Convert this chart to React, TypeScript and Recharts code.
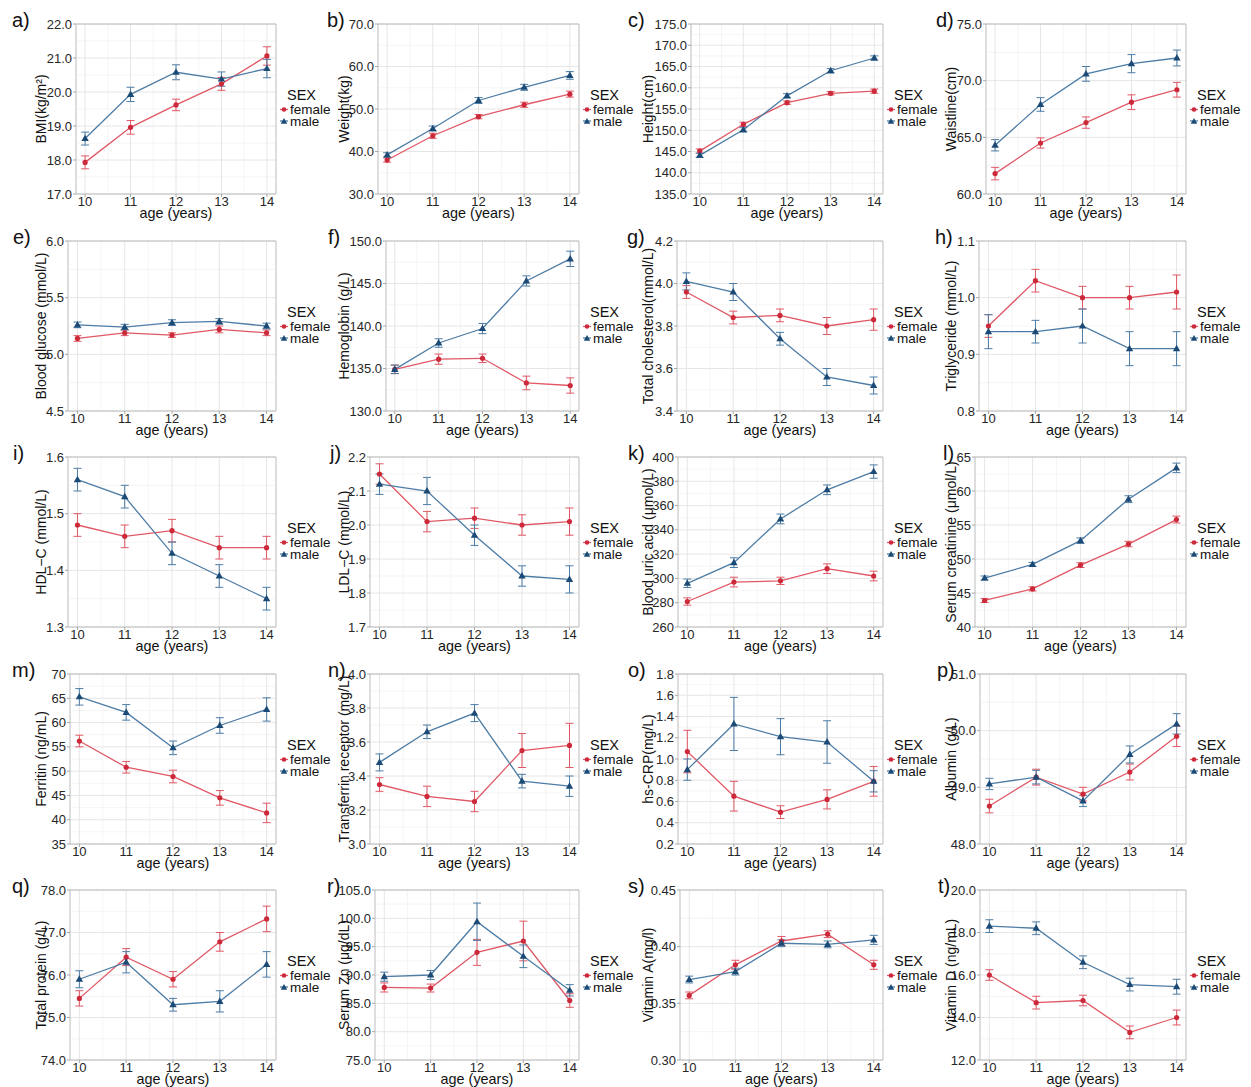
import React from 'react';
import { LineChart, Line, XAxis, YAxis, CartesianGrid, ErrorBar, ReferenceArea } from 'recharts';

// ---------- shared ----------
const ages = [10, 11, 12, 13, 14];
const xTicks = [10, 11, 12, 13, 14];
const xMinor = [10.5, 11.5, 12.5, 13.5];

// a) BMI
const bmiF = [17.93, 18.96, 19.62, 20.24, 21.06];
const bmiFe = [0.19, 0.2, 0.17, 0.19, 0.27];
const bmiM = [18.63, 19.93, 20.58, 20.38, 20.69];
const bmiMe = [0.19, 0.21, 0.22, 0.21, 0.27];
const bmiTicks = [17, 18, 19, 20, 21, 22];

// b) Weight
const wtF = [38.0, 43.7, 48.2, 51.0, 53.5];
const wtFe = [0.5, 0.6, 0.5, 0.6, 0.7];
const wtM = [39.2, 45.4, 52.0, 55.1, 57.9];
const wtMe = [0.5, 0.6, 0.7, 0.7, 0.9];
const wtTicks = [30, 40, 50, 60, 70];

// c) Height
const htF = [145.1, 151.4, 156.5, 158.7, 159.2];
const htFe = [0.5, 0.5, 0.4, 0.4, 0.5];
const htM = [144.1, 150.1, 158.1, 164.0, 167.0];
const htMe = [0.5, 0.5, 0.5, 0.5, 0.5];
const htTicks = [135, 140, 145, 150, 155, 160, 165, 170, 175];

// d) Waistline
const wsF = [61.8, 64.5, 66.3, 68.1, 69.2];
const wsFe = [0.55, 0.45, 0.5, 0.65, 0.65];
const wsM = [64.3, 67.9, 70.6, 71.5, 72.0];
const wsMe = [0.5, 0.6, 0.65, 0.8, 0.7];
const wsTicks = [60, 65, 70, 75];

// e) Blood glucose
const gluF = [5.14, 5.19, 5.17, 5.22, 5.19];
const gluFe = [0.025, 0.025, 0.02, 0.03, 0.025];
const gluM = [5.26, 5.24, 5.28, 5.29, 5.25];
const gluMe = [0.025, 0.025, 0.025, 0.025, 0.025];
const gluTicks = [4.5, 5.0, 5.5, 6.0];

// f) Hemoglobin
const hbF = [134.9, 136.1, 136.2, 133.3, 133.0];
const hbFe = [0.5, 0.6, 0.5, 0.8, 0.9];
const hbM = [134.9, 138.0, 139.7, 145.3, 147.9];
const hbMe = [0.5, 0.5, 0.6, 0.6, 0.9];
const hbTicks = [130, 135, 140, 145, 150];

// g) Total cholesterol
const tcF = [3.96, 3.84, 3.85, 3.8, 3.83];
const tcFe = [0.03, 0.03, 0.03, 0.04, 0.05];
const tcM = [4.01, 3.96, 3.74, 3.56, 3.52];
const tcMe = [0.04, 0.04, 0.03, 0.04, 0.04];
const tcTicks = [3.4, 3.6, 3.8, 4.0, 4.2];

// h) Triglyceride
const tgF = [0.95, 1.03, 1.0, 1.0, 1.01];
const tgFe = [0.02, 0.02, 0.02, 0.02, 0.03];
const tgM = [0.94, 0.94, 0.95, 0.91, 0.91];
const tgMe = [0.03, 0.02, 0.03, 0.03, 0.03];
const tgTicks = [0.8, 0.9, 1.0, 1.1];

// i) HDL-C
const hdlF = [1.48, 1.46, 1.47, 1.44, 1.44];
const hdlFe = [0.02, 0.02, 0.02, 0.02, 0.02];
const hdlM = [1.56, 1.53, 1.43, 1.39, 1.35];
const hdlMe = [0.02, 0.02, 0.02, 0.02, 0.02];
const hdlTicks = [1.3, 1.4, 1.5, 1.6];

// j) LDL-C
const ldlF = [2.15, 2.01, 2.02, 2.0, 2.01];
const ldlFe = [0.03, 0.03, 0.03, 0.03, 0.04];
const ldlM = [2.12, 2.1, 1.97, 1.85, 1.84];
const ldlMe = [0.03, 0.04, 0.03, 0.03, 0.04];
const ldlTicks = [1.7, 1.8, 1.9, 2.0, 2.1, 2.2];

// k) Blood uric acid
const uaF = [281, 297, 298, 308, 302];
const uaFe = [3, 4, 3, 4, 4];
const uaM = [296, 313, 349, 373, 388];
const uaMe = [3.5, 4, 4, 4, 5.5];
const uaTicks = [260, 280, 300, 320, 340, 360, 380, 400];

// l) Serum creatinine
const crF = [43.9, 45.6, 49.1, 52.2, 55.8];
const crFe = [0.3, 0.3, 0.35, 0.4, 0.5];
const crM = [47.2, 49.2, 52.7, 58.8, 63.4];
const crMe = [0.3, 0.3, 0.4, 0.5, 0.7];
const crTicks = [40, 45, 50, 55, 60, 65];

// m) Ferritin
const feF = [56.2, 50.8, 48.9, 44.5, 41.4];
const feFe = [1.2, 1.2, 1.3, 1.5, 2.0];
const feM = [65.3, 62.1, 54.8, 59.4, 62.7];
const feMe = [1.7, 1.6, 1.4, 1.6, 2.4];
const feTicks = [35, 40, 45, 50, 55, 60, 65, 70];

// n) Transferrin receptor
const tfrF = [3.35, 3.28, 3.25, 3.55, 3.58];
const tfrFe = [0.04, 0.06, 0.06, 0.1, 0.13];
const tfrM = [3.48, 3.66, 3.77, 3.37, 3.34];
const tfrMe = [0.05, 0.04, 0.05, 0.04, 0.06];
const tfrTicks = [3.0, 3.2, 3.4, 3.6, 3.8, 4.0];

// o) hs-CRP
const crpF = [1.07, 0.65, 0.5, 0.62, 0.79];
const crpFe = [0.2, 0.14, 0.06, 0.09, 0.14];
const crpM = [0.9, 1.33, 1.21, 1.16, 0.79];
const crpMe = [0.1, 0.25, 0.17, 0.2, 0.1];
const crpTicks = [0.2, 0.4, 0.6, 0.8, 1.0, 1.2, 1.4, 1.6, 1.8];

// p) Albumin
const albF = [48.67, 49.18, 48.88, 49.27, 49.9];
const albFe = [0.12, 0.14, 0.12, 0.14, 0.18];
const albM = [49.06, 49.18, 48.76, 49.58, 50.12];
const albMe = [0.1, 0.12, 0.1, 0.15, 0.18];
const albTicks = [48, 49, 50, 51];

// q) Total protein
const tpF = [75.45, 76.42, 75.9, 76.78, 77.32];
const tpFe = [0.18, 0.2, 0.18, 0.22, 0.3];
const tpM = [75.9, 76.3, 75.3, 75.38, 76.25];
const tpMe = [0.2, 0.25, 0.15, 0.25, 0.3];
const tpTicks = [74, 75, 76, 77, 78];

// r) Serum Zn
const znF = [87.8, 87.7, 94.0, 96.0, 85.5];
const znFe = [0.8, 0.7, 2.3, 3.5, 1.2];
const znM = [89.7, 90.0, 99.4, 93.3, 87.3];
const znMe = [0.8, 0.8, 3.3, 2.0, 1.0];
const znTicks = [75, 80, 85, 90, 95, 100, 105];

// s) Vitamin A
const vaF = [0.357, 0.384, 0.405, 0.411, 0.384];
const vaFe = [0.003, 0.004, 0.004, 0.003, 0.004];
const vaM = [0.371, 0.378, 0.403, 0.402, 0.406];
const vaMe = [0.003, 0.003, 0.003, 0.003, 0.004];
const vaTicks = [0.3, 0.35, 0.4, 0.45];

// t) Vitamin D
const vdF = [16.0, 14.7, 14.8, 13.3, 14.0];
const vdFe = [0.25, 0.3, 0.25, 0.3, 0.35];
const vdM = [18.3, 18.2, 16.6, 15.55, 15.45];
const vdMe = [0.3, 0.3, 0.3, 0.3, 0.35];
const vdTicks = [12, 14, 16, 18, 20];

const seriesNames = ['female', 'male'];
const legendTitle = 'SEX';
const xTitle = 'age (years)';

// ---------- panel table ----------
const panels = [
  { letter: 'a)', title: 'BMI(kg/m²)', f: bmiF, fe: bmiFe, m: bmiM, me: bmiMe, ticks: bmiTicks, dec: 1, left: 76, lx: 12 },
  { letter: 'b)', title: 'Weight(kg)', f: wtF, fe: wtFe, m: wtM, me: wtMe, ticks: wtTicks, dec: 1, left: 75, lx: 24 },
  { letter: 'c)', title: 'Height(cm)', f: htF, fe: htFe, m: htM, me: htMe, ticks: htTicks, dec: 1, left: 84, lx: 21 },
  { letter: 'd)', title: 'Waistline(cm)', f: wsF, fe: wsFe, m: wsM, me: wsMe, ticks: wsTicks, dec: 1, left: 76, lx: 26 },
  { letter: 'e)', title: 'Blood glucose (mmol/L)', f: gluF, fe: gluFe, m: gluM, me: gluMe, ticks: gluTicks, dec: 1, left: 68, lx: 13 },
  { letter: 'f)', title: 'Hemoglobin (g/L)', f: hbF, fe: hbFe, m: hbM, me: hbMe, ticks: hbTicks, dec: 1, left: 83, lx: 25 },
  { letter: 'g)', title: 'Total cholesterol(mmol/L)', f: tcF, fe: tcFe, m: tcM, me: tcMe, ticks: tcTicks, dec: 1, left: 70, lx: 20 },
  { letter: 'h)', title: 'Triglyceride (mmol/L)', f: tgF, fe: tgFe, m: tgM, me: tgMe, ticks: tgTicks, dec: 1, left: 69, lx: 25 },
  { letter: 'i)', title: 'HDL−C (mmol/L)', f: hdlF, fe: hdlFe, m: hdlM, me: hdlMe, ticks: hdlTicks, dec: 1, left: 68, lx: 13 },
  { letter: 'j)', title: 'LDL−C (mmol/L)', f: ldlF, fe: ldlFe, m: ldlM, me: ldlMe, ticks: ldlTicks, dec: 1, left: 67, lx: 27 },
  { letter: 'k)', title: 'Blood uric acid (μmol/L)', f: uaF, fe: uaFe, m: uaM, me: uaMe, ticks: uaTicks, dec: 0, left: 71, lx: 21 },
  { letter: 'l)', title: 'Serum creatinine (μmol/L)', f: crF, fe: crFe, m: crM, me: crMe, ticks: crTicks, dec: 0, left: 65, lx: 33 },
  { letter: 'm)', title: 'Ferritin (ng/mL)', f: feF, fe: feFe, m: feM, me: feMe, ticks: feTicks, dec: 0, left: 70, lx: 12 },
  { letter: 'n)', title: 'Transferrin receptor (mg/L)', f: tfrF, fe: tfrFe, m: tfrM, me: tfrMe, ticks: tfrTicks, dec: 1, left: 67, lx: 25 },
  { letter: 'o)', title: 'hs-CRP(mg/L)', f: crpF, fe: crpFe, m: crpM, me: crpMe, ticks: crpTicks, dec: 1, left: 71, lx: 21 },
  { letter: 'p)', title: 'Albumin (g/L)', f: albF, fe: albFe, m: albM, me: albMe, ticks: albTicks, dec: 1, left: 70, lx: 27 },
  { letter: 'q)', title: 'Total protein (g/L)', f: tpF, fe: tpFe, m: tpM, me: tpMe, ticks: tpTicks, dec: 1, left: 70, lx: 12 },
  { letter: 'r)', title: 'Serum Zn (μg/dL)', f: znF, fe: znFe, m: znM, me: znMe, ticks: znTicks, dec: 1, left: 72, lx: 24 },
  { letter: 's)', title: 'Vitamin A(mg/l)', f: vaF, fe: vaFe, m: vaM, me: vaMe, ticks: vaTicks, dec: 2, left: 73, lx: 21 },
  { letter: 't)', title: 'Vitamin D (ng/mL)', f: vdF, fe: vdFe, m: vdM, me: vdMe, ticks: vdTicks, dec: 1, left: 70, lx: 28 },
];

// ---------- style ----------
const FEMALE_LINE = '#E05865';
const FEMALE_PT = '#CC2A3B';
const MALE_LINE = '#4D7CA5';
const MALE_PT = '#1C4A76';
const FONT = '"Liberation Sans", Arial, Helvetica, sans-serif';

const W = 360;
const H = 232;
const TOP = 24;
const PH = 170;
const PR = 276;
const colX = [0, 303, 607, 910];
const rowY = [0, 217, 433, 650, 866];
const X_DOMAIN: [number, number] = [9.8, 14.2];

const femaleDot = (props: any) => {
  const { cx, cy, index } = props;
  if (cx == null || cy == null) return <g key={`fd${index}`} />;
  return <circle key={`fd${index}`} cx={cx} cy={cy} r={2.6} fill={FEMALE_PT} stroke="none" />;
};

const triPath = (cx: number, cy: number, s: number) =>
  `M${cx},${cy - s} L${cx + s * 0.95},${cy + s * 0.65} L${cx - s * 0.95},${cy + s * 0.65} Z`;

const maleDot = (props: any) => {
  const { cx, cy, index } = props;
  if (cx == null || cy == null) return <g key={`md${index}`} />;
  return <path key={`md${index}`} d={triPath(cx, cy, 3.9)} fill={MALE_PT} stroke="none" />;
};

function Panel({ p, idx }: { p: any; idx: number }) {
  const col = idx % 4;
  const row = Math.floor(idx / 4);
  const data = ages.map((a, i) => ({ age: a, f: p.f[i], fe: p.fe[i], m: p.m[i], me: p.me[i] }));
  const ticks: number[] = p.ticks;
  const lo = ticks[0];
  const hi = ticks[ticks.length - 1];
  const step = ticks[1] - ticks[0];
  const minorY = ticks.slice(0, -1).map((t) => t + step / 2);
  const cy = TOP + PH / 2;
  const bottom = TOP + PH;

  return (
    <div style={{ position: 'absolute', left: colX[col], top: rowY[row], width: W, height: H }}>
      <LineChart width={W} height={H} data={data} margin={{ top: TOP, right: W - PR, bottom: 0, left: 0 }}>
        <CartesianGrid horizontalValues={minorY} verticalValues={xMinor} stroke="#f1f1f1" strokeWidth={0.7} />
        <CartesianGrid horizontalValues={ticks} verticalValues={xTicks} stroke="#e3e3e3" strokeWidth={0.9} />
        <XAxis
          dataKey="age"
          type="number"
          domain={X_DOMAIN}
          ticks={xTicks}
          interval={0}
          allowDataOverflow
          height={H - TOP - PH}
          tick={{ fontSize: 13, fill: '#262626', fontFamily: FONT }}
          tickLine={{ stroke: '#a8a8a8' }}
          tickSize={3}
          tickMargin={0}
          axisLine={false}
        />
        <YAxis
          type="number"
          domain={[lo, hi]}
          ticks={ticks}
          interval={0}
          allowDataOverflow
          width={p.left}
          tickFormatter={(v: number) => v.toFixed(p.dec)}
          tick={{ fontSize: 13, fill: '#262626', fontFamily: FONT }}
          tickLine={{ stroke: '#a8a8a8' }}
          tickSize={3}
          tickMargin={1}
          axisLine={false}
        />
        <ReferenceArea x1={X_DOMAIN[0]} x2={X_DOMAIN[1]} y1={lo} y2={hi} fill="none" stroke="#bcbcbc" strokeWidth={1} ifOverflow="visible" />
        <Line
          dataKey="f"
          type="linear"
          stroke={FEMALE_LINE}
          strokeWidth={1.3}
          dot={femaleDot}
          activeDot={false}
          isAnimationActive={false}
        >
          <ErrorBar dataKey="fe" width={4} stroke={FEMALE_LINE} strokeWidth={1} direction="y" isAnimationActive={false} />
        </Line>
        <Line
          dataKey="m"
          type="linear"
          stroke={MALE_LINE}
          strokeWidth={1.3}
          dot={maleDot}
          activeDot={false}
          isAnimationActive={false}
        >
          <ErrorBar dataKey="me" width={4} stroke={MALE_LINE} strokeWidth={1} direction="y" isAnimationActive={false} />
        </Line>
      </LineChart>
      <svg
        width={W}
        height={H}
        style={{ position: 'absolute', left: 0, top: 0, overflow: 'visible', pointerEvents: 'none' }}
        fontFamily={FONT}
      >
        <text x={p.lx} y={27} fontSize={20} fill="#111">{p.letter}</text>
        <text
          x={41}
          y={cy}
          fontSize={14}
          fill="#111"
          textAnchor="middle"
          dominantBaseline="central"
          transform={`rotate(-90 41 ${cy})`}
        >
          {p.title}
        </text>
        <text x={(p.left + PR) / 2} y={bottom + 24} fontSize={14.4} fill="#111" textAnchor="middle">
          {xTitle}
        </text>
        <text x={PR + 11} y={cy - 14} fontSize={14.5} fill="#111" dominantBaseline="central">{legendTitle}</text>
        <line x1={PR + 4} x2={PR + 12} y1={cy + 0.5} y2={cy + 0.5} stroke={FEMALE_LINE} strokeWidth={1.3} />
        <circle cx={PR + 8} cy={cy + 0.5} r={2.3} fill={FEMALE_PT} />
        <text x={PR + 14} y={cy + 0.5} fontSize={13.5} fill="#111" dominantBaseline="central">{seriesNames[0]}</text>
        <line x1={PR + 4} x2={PR + 12} y1={cy + 12} y2={cy + 12} stroke={MALE_LINE} strokeWidth={1.3} />
        <path d={triPath(PR + 8, cy + 12.5, 3.4)} fill={MALE_PT} />
        <text x={PR + 14} y={cy + 12} fontSize={13.5} fill="#111" dominantBaseline="central">{seriesNames[1]}</text>
      </svg>
    </div>
  );
}

export default function App() {
  return (
    <div style={{ position: 'absolute', left: 0, top: 0, width: 1251, height: 1087, background: '#fff', fontFamily: FONT }}>
      {panels.map((p, i) => (
        <Panel key={p.letter} p={p} idx={i} />
      ))}
    </div>
  );
}
